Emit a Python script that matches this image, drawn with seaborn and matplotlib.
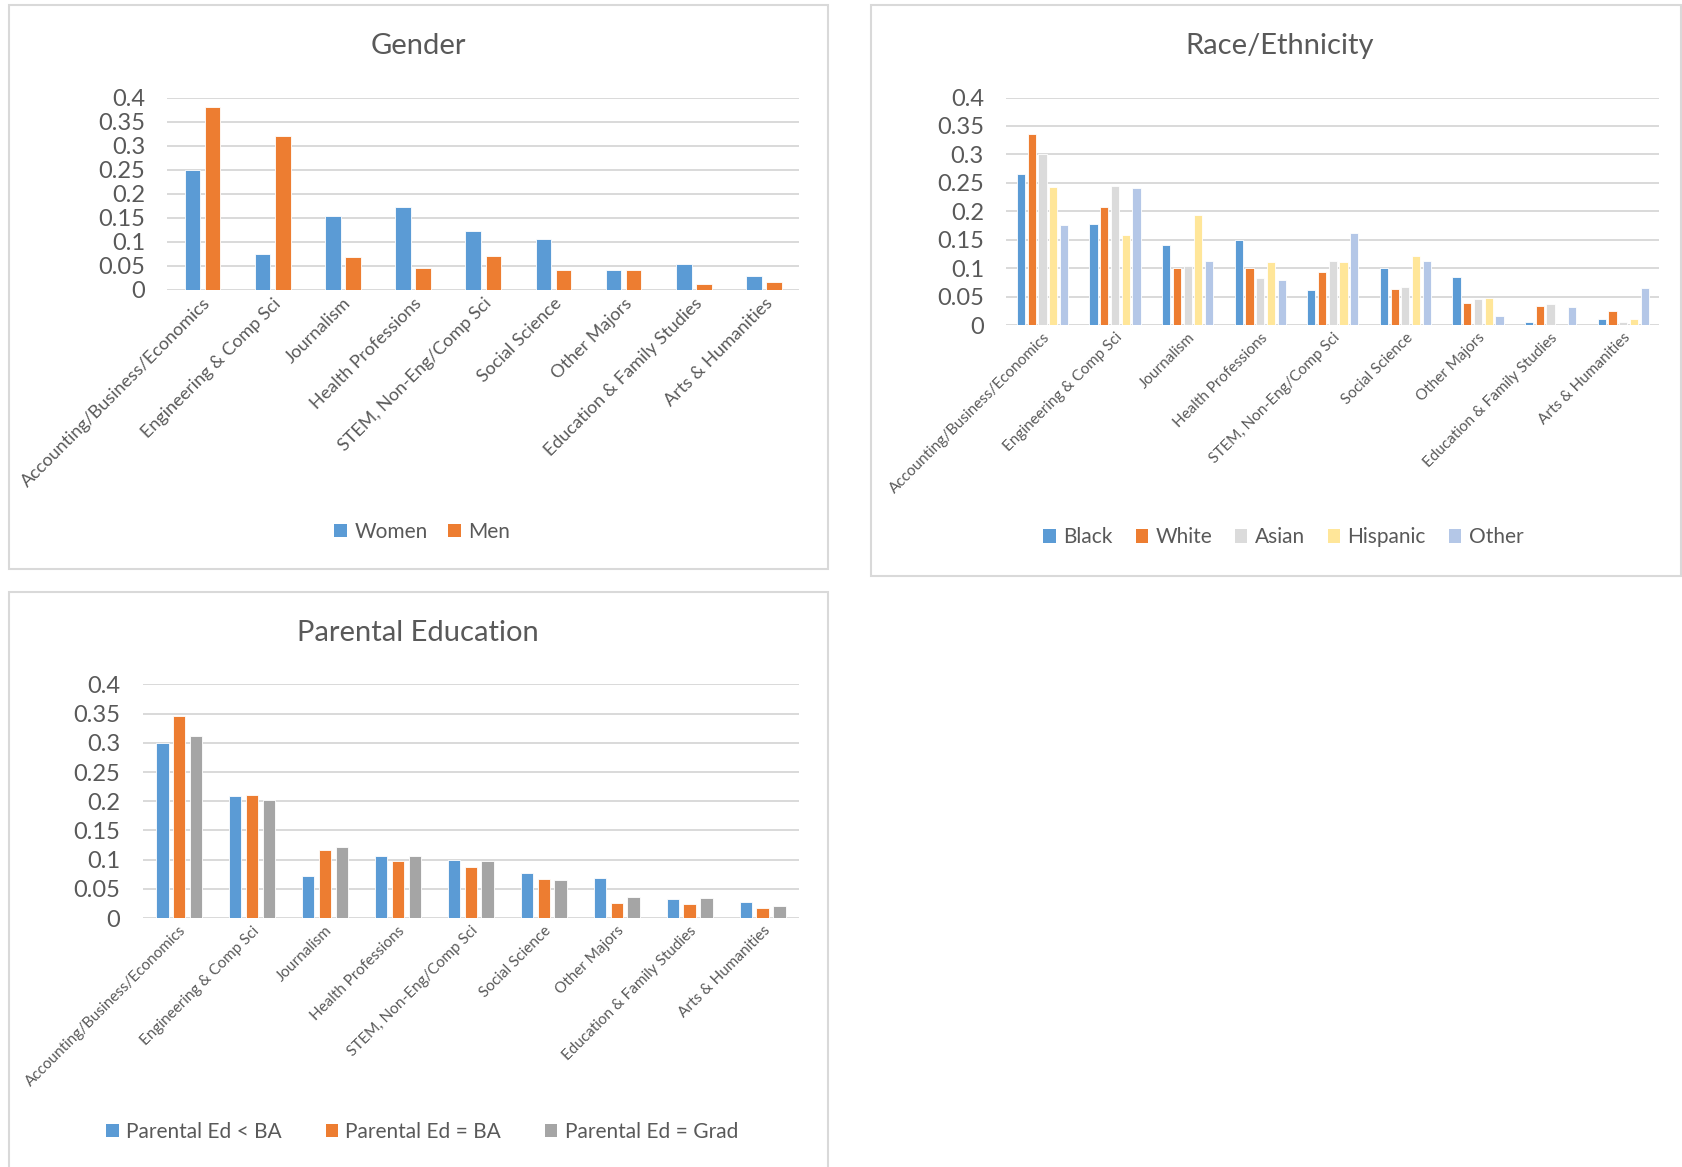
import numpy as np
import pandas as pd
import matplotlib
matplotlib.use("Agg")
import matplotlib.pyplot as plt
from matplotlib.patches import Rectangle
import seaborn as sns

sns.set_style("white")
plt.rcParams['font.family'] = ['Lato', 'DejaVu Sans']

# ---- data (shares) ----
majors = ['Accounting/Business/Economics', 'Engineering & Comp Sci', 'Journalism',
          'Health Professions', 'STEM, Non-Eng/Comp Sci', 'Social Science',
          'Other Majors', 'Education & Family Studies', 'Arts & Humanities']

gender_groups = ['Women', 'Men']
women = [0.249, 0.074, 0.153, 0.172, 0.123, 0.105, 0.041, 0.053, 0.028]
men = [0.381, 0.320, 0.069, 0.045, 0.071, 0.041, 0.041, 0.011, 0.016]

race_groups = ['Black', 'White', 'Asian', 'Hispanic', 'Other']
race_black = [0.266, 0.178, 0.140, 0.150, 0.061, 0.101, 0.084, 0.005, 0.010]
race_white = [0.336, 0.208, 0.100, 0.100, 0.094, 0.064, 0.038, 0.034, 0.024]
race_asian = [0.300, 0.245, 0.103, 0.082, 0.112, 0.067, 0.045, 0.037, 0.006]
race_hispanic = [0.243, 0.158, 0.194, 0.110, 0.110, 0.122, 0.048, 0.0, 0.011]
race_other = [0.176, 0.241, 0.112, 0.080, 0.161, 0.113, 0.015, 0.032, 0.065]

parent_groups = ['Parental Ed < BA', 'Parental Ed = BA', 'Parental Ed = Grad']
par_lt_ba = [0.300, 0.209, 0.072, 0.106, 0.100, 0.078, 0.068, 0.033, 0.027]
par_ba = [0.345, 0.211, 0.117, 0.098, 0.088, 0.067, 0.026, 0.024, 0.018]
par_grad = [0.312, 0.202, 0.122, 0.106, 0.097, 0.066, 0.036, 0.034, 0.021]

TXT = '#595959'
GRID = '#D9D9D9'


def long_df(groups, series):
    rows = []
    for g, vals in zip(groups, series):
        for m, v in zip(majors, vals):
            rows.append({'major': m, 'group': g, 'share': v})
    return pd.DataFrame(rows)


def panel(fig, rect, title, title_xy, groups, series, colors, width, gap,
          xlab_size, legend_xy, colspace):
    ax = fig.add_axes(rect)
    df = long_df(groups, series)
    sns.barplot(data=df, x='major', y='share', hue='group', order=majors,
                hue_order=groups, palette=colors, width=width, gap=gap,
                saturation=1, edgecolor='white', linewidth=0.6, ax=ax, legend=False)
    ax.set_ylim(0, 0.4)
    ax.set_xlim(-0.5, len(majors) - 0.5)
    yt = np.arange(0, 0.401, 0.05)
    ax.set_yticks(yt)
    ax.set_yticklabels([f'{v:g}' for v in np.round(yt, 2)], fontsize=17, color=TXT)
    ax.yaxis.grid(True, color=GRID, linewidth=1.4)
    ax.set_axisbelow(True)
    for s in ax.spines.values():
        s.set_visible(False)
    ax.tick_params(axis='both', length=0, pad=4)
    ax.tick_params(axis='y', pad=16)
    ax.set_xticks(range(len(majors)))
    ax.set_xticklabels(majors, rotation=45, ha='right', rotation_mode='anchor',
                       fontsize=xlab_size, color=TXT)
    ax.set_xlabel('')
    ax.set_ylabel('')
    fig.text(title_xy[0], title_xy[1], title, ha='center', va='center',
             fontsize=21, color=TXT)
    handles = [Rectangle((0, 0), 1, 1, facecolor=c, edgecolor='none') for c in colors]
    fig.legend(handles, groups, loc='center', bbox_to_anchor=legend_xy,
               ncol=len(groups), frameon=False, fontsize=15, labelcolor=TXT,
               handlelength=0.6, handleheight=0.6, handletextpad=0.35,
               columnspacing=colspace)
    return ax


fig = plt.figure(figsize=(16.82, 11.67), dpi=100)

# chart area borders
for (x0, y0, w, h) in [(0.0051, 0.512, 0.4872, 0.4835),
                       (0.5179, 0.5064, 0.4815, 0.4890),
                       (0.0051, -0.02, 0.4872, 0.5126)]:
    fig.patches.append(Rectangle((x0, y0), w, h, transform=fig.transFigure,
                                 fill=False, edgecolor=GRID, linewidth=1.5))

panel(fig, [0.0995, 0.7518, 0.3756, 0.1645], 'Gender', (0.2487, 0.9605),
      gender_groups, [women, men], ['#5B9BD5', '#ED7D31'],
      width=0.575, gap=0.23, xlab_size=13, legend_xy=(0.251, 0.5441), colspace=1.0)

panel(fig, [0.5982, 0.7215, 0.3884, 0.1949], 'Race/Ethnicity', (0.7608, 0.9605),
      race_groups, [race_black, race_white, race_asian, race_hispanic, race_other],
      ['#5B9BD5', '#ED7D31', '#DBDBDB', '#FFE699', '#B4C7E7'],
      width=0.74, gap=0.24, xlab_size=11, legend_xy=(0.763, 0.5395), colspace=1.1)

panel(fig, [0.0848, 0.2132, 0.3903, 0.2004], 'Parental Education', (0.2487, 0.4577),
      parent_groups, [par_lt_ba, par_ba, par_grad], ['#5B9BD5', '#ED7D31', '#A5A5A5'],
      width=0.69, gap=0.26, xlab_size=11, legend_xy=(0.251, 0.0303), colspace=2.1)

fig.savefig('out.png', dpi=100)
